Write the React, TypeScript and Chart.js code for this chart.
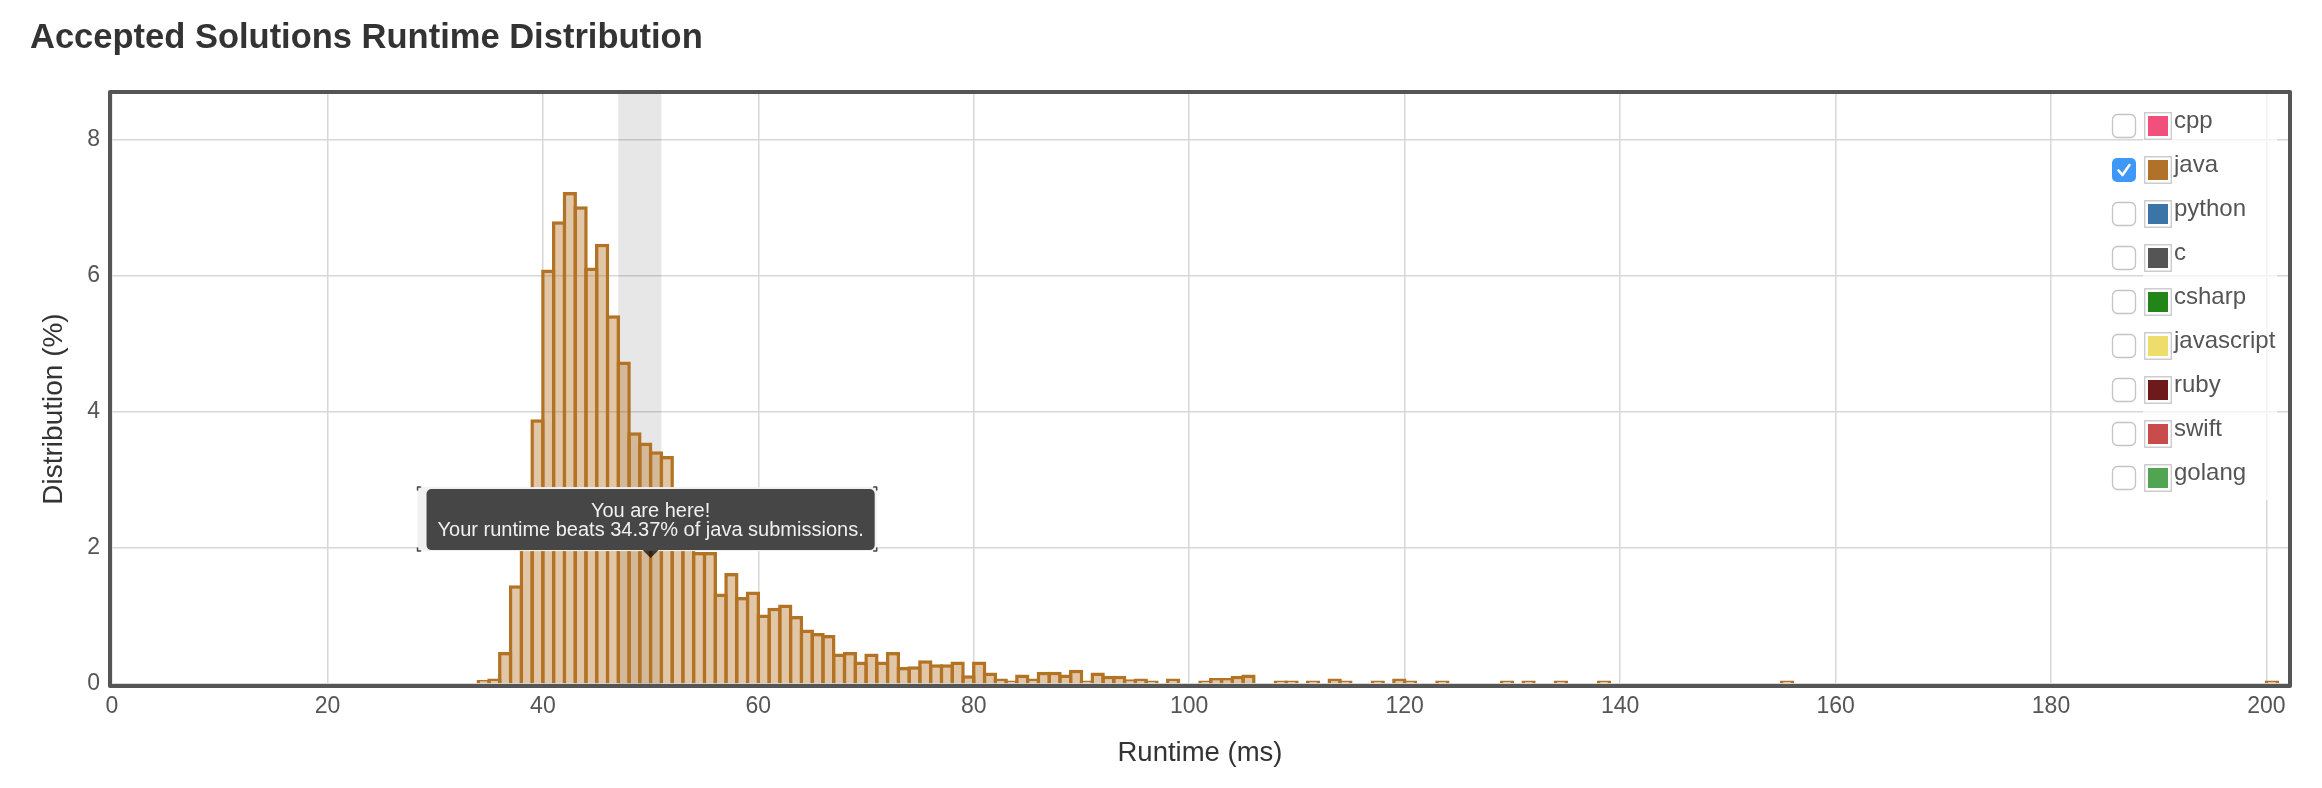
import React, { useEffect, useRef } from "react";
import { Chart, registerables } from "chart.js";

Chart.register(...registerables);

const FONT = '"Liberation Sans", Arial, Helvetica, sans-serif';

const TITLE = "Accepted Solutions Runtime Distribution";
const X_AXIS_TITLE = "Runtime (ms)";
const Y_AXIS_TITLE = "Distribution (%)";

// runtime bins (ms, bin start) and their share of accepted java submissions (%)
const RUNTIMES = [
  34, 35, 36, 37, 38, 39, 40, 41, 42, 43, 44, 45, 46, 47, 48, 49, 50, 51, 52, 53,
  54, 55, 56, 57, 58, 59, 60, 61, 62, 63, 64, 65, 66, 67, 68, 69, 70, 71, 72, 73,
  74, 75, 76, 77, 78, 79, 80, 81, 82, 83, 84, 85, 86, 87, 88, 89, 90, 91, 92, 93,
  94, 95, 96, 98, 101, 102, 103, 104, 105, 108, 109, 111, 113, 114, 117, 119, 120,
  123, 129, 131, 134, 138, 155, 200,
];
const DISTRIBUTION = [
  0.06, 0.08, 0.47, 1.45, 2.84, 3.89, 6.09, 6.8, 7.23, 7.02, 6.12, 6.47, 5.42, 4.74, 3.7, 3.55, 3.42, 3.35, 2.41, 2.38,
  1.94, 1.94, 1.33, 1.63, 1.28, 1.36, 1.02, 1.12, 1.17, 1.0, 0.8, 0.75, 0.72, 0.45, 0.47, 0.33, 0.45, 0.33, 0.47, 0.25,
  0.26, 0.35, 0.29, 0.29, 0.33, 0.13, 0.33, 0.17, 0.08, 0.05, 0.14, 0.08, 0.18, 0.18, 0.14, 0.21, 0.05, 0.17, 0.12, 0.12,
  0.07, 0.08, 0.05, 0.08, 0.05, 0.09, 0.09, 0.12, 0.14, 0.05, 0.05, 0.05, 0.08, 0.05, 0.05, 0.08, 0.05,
  0.05, 0.05, 0.05, 0.05, 0.05, 0.05, 0.05,
];
const BIN_WIDTH = 1;

const X_MIN = 0;
const X_MAX = 202;
const X_STEP = 20;
const Y_MIN = 0;
const Y_MAX = 8.67;
const Y_STEP = 2;

const HIGHLIGHT_RANGE = [47, 51];
const YOU_ARE_HERE = { x: 50, y: 1.85 };
const TOOLTIP_LINES = ["You are here!", "Your runtime beats 34.37% of java submissions."];

const LANGUAGES = ["cpp", "java", "python", "c", "csharp", "javascript", "ruby", "swift", "golang"];
const LANGUAGE_COLORS = [
  "#f2507c", "#b07228", "#3b74a6", "#555555", "#218617", "#efdd6b", "#6e1a1a", "#c94b4b", "#51a552",
];
const LANGUAGE_CHECKED = [false, true, false, false, false, false, false, false, false];

const BAR_COLOR = "rgb(179,115,36)";
const BAR_FILL = "rgba(179,115,36,0.4)";
const BAR_BORDER = 3.5;
const BIN_PIXELS_APPROX = 10.77;

function roundRect(ctx: CanvasRenderingContext2D, x: number, y: number, w: number, h: number, r: number) {
  ctx.beginPath();
  ctx.moveTo(x + r, y);
  ctx.lineTo(x + w - r, y);
  ctx.arcTo(x + w, y, x + w, y + r, r);
  ctx.lineTo(x + w, y + h - r);
  ctx.arcTo(x + w, y + h, x + w - r, y + h, r);
  ctx.lineTo(x + r, y + h);
  ctx.arcTo(x, y + h, x, y + h - r, r);
  ctx.lineTo(x, y + r);
  ctx.arcTo(x, y, x + r, y, r);
  ctx.closePath();
}

const decorPlugin = {
  id: "decor",
  beforeDatasetsDraw(chart: any) {
    const { ctx, chartArea, scales } = chart;
    const x0 = scales.x.getPixelForValue(HIGHLIGHT_RANGE[0]);
    const x1 = scales.x.getPixelForValue(HIGHLIGHT_RANGE[1]);
    ctx.save();
    ctx.fillStyle = "rgba(0,0,0,0.095)";
    ctx.fillRect(x0, chartArea.top, x1 - x0, chartArea.bottom - chartArea.top);
    ctx.restore();
  },
  afterDraw(chart: any) {
    const { ctx, chartArea, scales } = chart;
    ctx.save();

    // page title
    ctx.fillStyle = "#333";
    ctx.font = `bold 34.5px ${FONT}`;
    ctx.textAlign = "left";
    ctx.textBaseline = "alphabetic";
    ctx.fillText(TITLE, 30, 48);

    // y axis title
    ctx.save();
    ctx.translate(54, 409);
    ctx.rotate(-Math.PI / 2);
    ctx.fillStyle = "#333";
    ctx.font = `28px ${FONT}`;
    ctx.textAlign = "center";
    ctx.textBaseline = "middle";
    ctx.fillText(Y_AXIS_TITLE, 0, 0);
    ctx.restore();

    // legend
    const right = chartArea.right;
    const top = chartArea.top;
    ctx.fillStyle = "rgba(255,255,255,0.72)";
    ctx.fillRect(right - 145, top, 134, 406);
    LANGUAGES.forEach((name, i) => {
      const cy = top + 32 + i * 44;
      const cbx = right - 176;
      // checkbox
      if (LANGUAGE_CHECKED[i]) {
        roundRect(ctx, cbx, cy - 12, 24, 24, 5);
        ctx.fillStyle = "#3d98f8";
        ctx.fill();
        ctx.strokeStyle = "#fff";
        ctx.lineWidth = 2.6;
        ctx.lineCap = "round";
        ctx.lineJoin = "round";
        ctx.beginPath();
        ctx.moveTo(cbx + 6.5, cy + 0.5);
        ctx.lineTo(cbx + 10.5, cy + 5);
        ctx.lineTo(cbx + 17.5, cy - 5);
        ctx.stroke();
      } else {
        roundRect(ctx, cbx + 0.5, cy - 11.5, 23, 23, 5);
        ctx.fillStyle = "#fff";
        ctx.fill();
        ctx.strokeStyle = "#c4c4c4";
        ctx.lineWidth = 1.3;
        ctx.stroke();
      }
      // color swatch
      const sx = right - 144;
      ctx.fillStyle = "#fff";
      ctx.fillRect(sx, cy - 14, 28, 28);
      ctx.strokeStyle = "#cccccc";
      ctx.lineWidth = 1.4;
      ctx.strokeRect(sx + 0.7, cy - 13.3, 26.6, 26.6);
      ctx.fillStyle = LANGUAGE_COLORS[i];
      ctx.fillRect(sx + 4, cy - 10, 20, 20);
      // label
      ctx.fillStyle = "#555";
      ctx.font = `24px ${FONT}`;
      ctx.textAlign = "left";
      ctx.textBaseline = "alphabetic";
      ctx.fillText(name, right - 114, cy + 1.5);
    });

    // plot frame
    ctx.strokeStyle = "#555";
    ctx.lineWidth = 4;
    ctx.strokeRect(chartArea.left - 2, chartArea.top - 2, chartArea.right - chartArea.left + 4, chartArea.bottom - chartArea.top + 4);

    // "you are here" tooltip
    const px = scales.x.getPixelForValue(YOU_ARE_HERE.x);
    const py = scales.y.getPixelForValue(YOU_ARE_HERE.y);
    ctx.font = `20px ${FONT}`;
    const textW = Math.max(...TOOLTIP_LINES.map((t) => ctx.measureText(t).width));
    const w = textW + 22;
    const h = 61;
    const arrow = 8;
    const bx = px - w / 2;
    const by = py - arrow - h;
    // faint outer frame
    ctx.fillStyle = "#f1f1f1";
    ctx.fillRect(bx - 9, by - 2, w + 11, h + 3);
    ctx.strokeStyle = "#444";
    ctx.lineWidth = 1.5;
    const fx0 = bx - 9, fy0 = by - 2, fx1 = bx + w + 2, fy1 = by + h + 1;
    ctx.beginPath();
    ctx.moveTo(fx0 + 3, fy0); ctx.lineTo(fx0, fy0); ctx.lineTo(fx0, fy0 + 3);
    ctx.moveTo(fx0 + 3, fy1); ctx.lineTo(fx0, fy1); ctx.lineTo(fx0, fy1 - 3);
    ctx.moveTo(fx1 - 3, fy0); ctx.lineTo(fx1, fy0); ctx.lineTo(fx1, fy0 + 3);
    ctx.moveTo(fx1 - 3, fy1); ctx.lineTo(fx1, fy1); ctx.lineTo(fx1, fy1 - 3);
    ctx.stroke();
    ctx.fillStyle = "rgba(0,0,0,0.71)";
    roundRect(ctx, bx, by, w, h, 5);
    ctx.fill();
    ctx.beginPath();
    ctx.moveTo(px - 8, by + h);
    ctx.lineTo(px + 8, by + h);
    ctx.lineTo(px, by + h + arrow);
    ctx.closePath();
    ctx.fill();
    ctx.fillStyle = "#f0f0f0";
    ctx.textAlign = "center";
    ctx.textBaseline = "middle";
    TOOLTIP_LINES.forEach((t, i) => ctx.fillText(t, px, by + 22 + i * 19.5));

    ctx.restore();
  },
};

export default function App() {
  const ref = useRef<HTMLCanvasElement | null>(null);
  useEffect(() => {
    const canvas = ref.current;
    if (!canvas) return;
    const chart = new Chart(canvas, {
      type: "bar",
      data: {
        datasets: [
          {
            label: "java",
            data: RUNTIMES.map((r, i) => ({ x: r + BIN_WIDTH / 2, y: DISTRIBUTION[i] })),
            backgroundColor: BAR_FILL,
            borderColor: BAR_COLOR,
            borderWidth: BAR_BORDER,
            borderSkipped: "start",
            barPercentage: 1 + BAR_BORDER / BIN_PIXELS_APPROX,
            categoryPercentage: 1,
            inflateAmount: 0,
          } as any,
        ],
      },
      options: {
        responsive: false,
        animation: false,
        devicePixelRatio: 1,
        layout: { padding: { left: 0, right: 34, top: 94, bottom: 0 } },
        plugins: {
          legend: { display: false },
          tooltip: { enabled: false },
          title: { display: false },
        },
        scales: {
          x: {
            type: "linear",
            min: X_MIN,
            max: X_MAX,
            offset: false,
            ticks: {
              stepSize: X_STEP,
              includeBounds: false,
              padding: 9,
              color: "#555",
              font: { family: FONT, size: 23 },
              maxRotation: 0,
            },
            grid: { color: "#d8d8d8", lineWidth: 1.5, drawTicks: false, offset: false },
            border: { display: false },
            title: {
              display: true,
              text: X_AXIS_TITLE,
              color: "#333",
              font: { family: FONT, size: 27.5 },
              padding: { top: 0, bottom: 18 },
            },
            afterFit: (s: any) => {
              s.height = 104;
            },
          },
          y: {
            type: "linear",
            min: Y_MIN,
            max: Y_MAX,
            ticks: {
              stepSize: Y_STEP,
              includeBounds: false,
              padding: 12,
              color: "#555",
              font: { family: FONT, size: 23 },
            },
            grid: { color: "#d8d8d8", lineWidth: 1.5, drawTicks: false },
            border: { display: false },
            title: { display: false },
            afterFit: (s: any) => {
              s.width = 112;
            },
          },
        },
      } as any,
      plugins: [decorPlugin],
    });
    return () => chart.destroy();
  }, []);
  return (
    <div style={{ position: "absolute", left: 0, top: 0, width: 2322, height: 788, background: "#fff" }}>
      <canvas ref={ref} width={2322} height={788} style={{ display: "block", width: 2322, height: 788 }} />
    </div>
  );
}
